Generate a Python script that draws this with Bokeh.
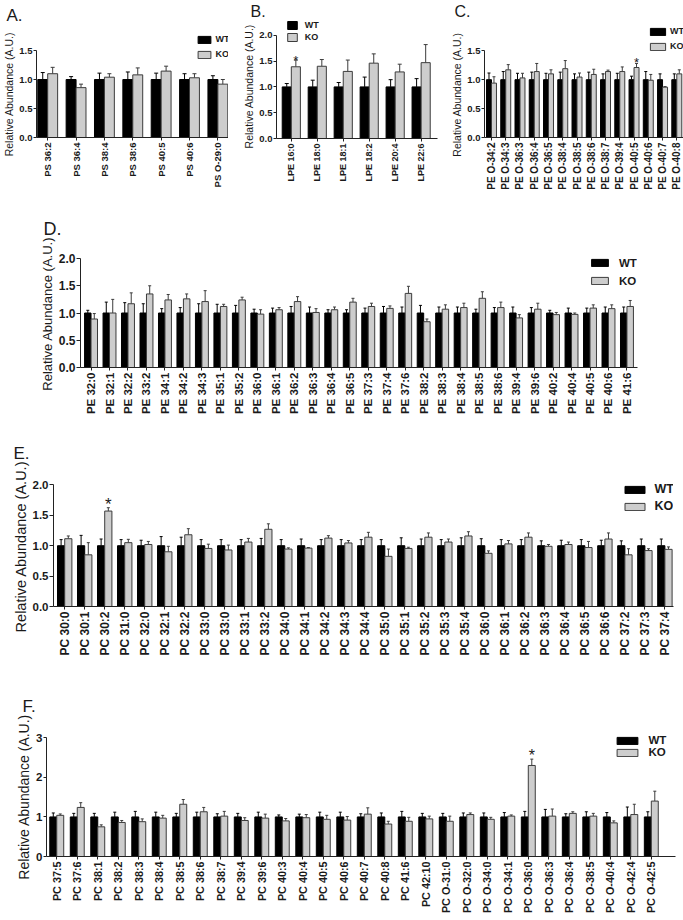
import numpy as np
from bokeh.plotting import figure
from bokeh.models import (ColumnDataSource, Whisker, TeeHead, FixedTicker, Legend,
                          LegendItem, Range1d, NumeralTickFormatter)
from bokeh.layouts import column, row
from bokeh.embed import file_html
from bokeh.resources import INLINE
from bokeh.core.properties import value

# ---------------- data ----------------
a_cats = ["PS 36:2", "PS 36:4", "PS 38:4", "PS 38:6", "PS 40:5", "PS 40:6", "PS O-29:0"]
a_wt = [1.0, 1.0, 1.0, 1.0, 1.0, 1.0, 1.0]
a_wt_err = [0.12, 0.05, 0.11, 0.13, 0.11, 0.10, 0.065]
a_ko = [1.10, 0.86, 1.04, 1.08, 1.145, 1.03, 0.92]
a_ko_err = [0.11, 0.06, 0.06, 0.12, 0.085, 0.07, 0.08]
a_sig = []

b_cats = ["LPE 16:0", "LPE 18:0", "LPE 18:1", "LPE 18:2", "LPE 20:4", "LPE 22:6"]
b_wt = [1.0, 1.0, 1.0, 1.0, 1.0, 1.0]
b_wt_err = [0.065, 0.13, 0.085, 0.19, 0.14, 0.16]
b_ko = [1.39, 1.40, 1.30, 1.46, 1.29, 1.47]
b_ko_err = [0.13, 0.13, 0.22, 0.18, 0.15, 0.35]
b_sig = [0]

c_cats = ["PE O-34:2", "PE O-34:3", "PE O-36:3", "PE O-36:4", "PE O-36:5", "PE O-38:4",
          "PE O-38:5", "PE O-38:6", "PE O-38:7", "PE O-39:4", "PE O-40:5", "PE O-40:6",
          "PE O-40:7", "PE O-40:8"]
c_wt = [1.0, 1.0, 1.0, 1.0, 1.0, 1.0, 1.0, 1.0, 1.0, 1.0, 1.0, 1.0, 1.0, 1.0]
c_wt_err = [0.115, 0.14, 0.11, 0.13, 0.11, 0.13, 0.10, 0.13, 0.10, 0.11, 0.06, 0.14, 0.10, 0.10]
c_ko = [0.94, 1.17, 1.03, 1.14, 1.10, 1.19, 1.045, 1.09, 1.14, 1.14, 1.21, 0.99, 0.87, 1.10]
c_ko_err = [0.11, 0.09, 0.08, 0.14, 0.07, 0.14, 0.07, 0.09, 0.025, 0.08, 0.07, 0.10, 0.01, 0.07]
c_sig = [10]

d_cats = ["PE 32:0", "PE 32:1", "PE 32:2", "PE 33:2", "PE 34:1", "PE 34:2", "PE 34:3",
          "PE 35:1", "PE 35:2", "PE 36:0", "PE 36:1", "PE 36:2", "PE 36:3", "PE 36:4",
          "PE 36:5", "PE 37:3", "PE 37:4", "PE 37:6", "PE 38:2", "PE 38:3", "PE 38:4",
          "PE 38:5", "PE 38:6", "PE 39:4", "PE 39:6", "PE 40:2", "PE 40:4", "PE 40:5",
          "PE 40:6", "PE 41:6"]
d_wt = [1.0, 1.0, 1.0, 1.0, 1.0, 1.0, 1.0, 1.0, 1.0, 1.0, 1.0, 1.0, 1.0, 1.0, 1.0,
        1.0, 1.0, 1.0, 1.0, 1.0, 1.0, 1.0, 1.0, 1.0, 1.0, 1.0, 1.0, 1.0, 1.0, 1.0]
d_wt_err = [0.05, 0.20, 0.19, 0.17, 0.08, 0.10, 0.17, 0.16, 0.14, 0.07, 0.09, 0.12, 0.11, 0.06,
            0.06, 0.09, 0.12, 0.11, 0.14, 0.11, 0.11, 0.07, 0.10, 0.11, 0.10, 0.05, 0.09, 0.09,
            0.11, 0.11]
d_ko = [0.89, 1.00, 1.17, 1.35, 1.24, 1.26, 1.21, 1.12, 1.24, 0.98, 1.06, 1.21, 1.01, 1.06,
        1.20, 1.12, 1.085, 1.36, 0.84, 1.07, 1.10, 1.27, 1.10, 0.91, 1.07, 0.97, 0.975, 1.09,
        1.08, 1.12]
d_ko_err = [0.10, 0.25, 0.20, 0.15, 0.10, 0.09, 0.20, 0.04, 0.05, 0.08, 0.04, 0.09, 0.07, 0.05,
            0.07, 0.06, 0.045, 0.13, 0.05, 0.08, 0.08, 0.12, 0.10, 0.06, 0.11, 0.04, 0.025, 0.06,
            0.07, 0.11]
d_sig = []

e_cats = ["PC 30:0", "PC 30:1", "PC 30:2", "PC 31:0", "PC 32:0", "PC 32:1", "PC 32:2",
          "PC 33:0", "PC 33:0", "PC 33:1", "PC 33:2", "PC 34:0", "PC 34:1", "PC 34:2",
          "PC 34:3", "PC 34:4", "PC 35:0", "PC 35:1", "PC 35:2", "PC 35:3", "PC 35:4",
          "PC 36:0", "PC 36:1", "PC 36:2", "PC 36:3", "PC 36:4", "PC 36:5", "PC 36:6",
          "PC 37:2", "PC 37:3", "PC 37:4"]
e_wt = [1.0, 1.0, 1.0, 1.0, 1.0, 1.0, 1.0, 1.0, 1.0, 1.0, 1.0, 1.0, 1.0, 1.0, 1.0, 1.0,
        1.0, 1.0, 1.0, 1.0, 1.0, 1.0, 1.0, 1.0, 1.0, 1.0, 1.0, 1.0, 1.0, 1.0, 1.0]
e_wt_err = [0.10, 0.17, 0.11, 0.10, 0.09, 0.15, 0.14, 0.10, 0.10, 0.10, 0.12, 0.10, 0.11, 0.10,
            0.10, 0.10, 0.10, 0.13, 0.11, 0.10, 0.13, 0.115, 0.10, 0.10, 0.08, 0.09, 0.10, 0.09,
            0.08, 0.11, 0.11]
e_ko = [1.115, 0.85, 1.57, 1.05, 1.02, 0.90, 1.18, 0.955, 0.93, 1.06, 1.27, 0.945, 0.96, 1.125,
        1.045, 1.14, 0.825, 0.955, 1.14, 1.06, 1.16, 0.875, 1.03, 1.14, 0.99, 1.02, 0.97, 1.11,
        0.85, 0.92, 0.94]
e_ko_err = [0.045, 0.20, 0.055, 0.055, 0.05, 0.09, 0.10, 0.07, 0.08, 0.06, 0.09, 0.02, 0.01, 0.04,
            0.04, 0.08, 0.12, 0.02, 0.07, 0.05, 0.07, 0.04, 0.055, 0.07, 0.03, 0.04, 0.10, 0.10,
            0.10, 0.03, 0.04]
e_sig = [2]

f_cats = ["PC 37:5", "PC 37:6", "PC 38:1", "PC 38:2", "PC 38:3", "PC 38:4", "PC 38:5",
          "PC 38:6", "PC 38:7", "PC 39:4", "PC 39:6", "PC 40:3", "PC 40:4", "PC 40:5",
          "PC 40:6", "PC 40:7", "PC 40:8", "PC 41:6", "PC 42:10", "PC O-31:0", "PC O-32:0",
          "PC O-34:0", "PC O-34:1", "PC O-36:0", "PC O-36:3", "PC O-36:4", "PC O-38:5",
          "PC O-40:4", "PC O-42:4", "PC O-42:5"]
f_wt = [1.0, 1.0, 1.0, 1.0, 1.0, 1.0, 1.0, 1.0, 1.0, 1.0, 1.0, 1.0, 1.0, 1.0, 1.0,
        1.0, 1.0, 1.0, 1.0, 1.0, 1.0, 1.0, 1.0, 1.0, 1.0, 1.0, 1.0, 1.0, 1.0, 1.0]
f_wt_err = [0.10, 0.09, 0.09, 0.12, 0.14, 0.12, 0.09, 0.12, 0.08, 0.09, 0.12, 0.05, 0.07, 0.12,
            0.12, 0.08, 0.10, 0.14, 0.09, 0.09, 0.10, 0.10, 0.11, 0.14, 0.19, 0.08, 0.13, 0.11,
            0.25, 0.13]
f_ko = [1.04, 1.24, 0.75, 0.86, 0.88, 0.97, 1.32, 1.13, 1.02, 0.91, 0.97, 0.90, 0.98, 0.94,
        0.92, 1.07, 0.82, 0.89, 0.95, 0.89, 1.06, 0.94, 1.02, 2.30, 1.02, 1.09, 1.02, 0.85,
        1.06, 1.40]
f_ko_err = [0.035, 0.12, 0.05, 0.05, 0.07, 0.07, 0.12, 0.11, 0.12, 0.07, 0.10, 0.06, 0.08, 0.10,
            0.09, 0.16, 0.07, 0.10, 0.07, 0.13, 0.04, 0.05, 0.03, 0.16, 0.18, 0.04, 0.07, 0.05,
            0.26, 0.25]
f_sig = [23]

Y_TITLE = "Relative Abundance (A.U.)"

# ---------------- styling ----------------
FONT = "Liberation Sans"
TXT = "#1a1a1a"
KO_FILL = "#cdcdcd"
KO_LINE = "#3c3c3c"
NBSP = "\u00a0"


def panel(cats, wt, wt_err, ko, ko_err, sig, cfg):
    n = len(cats)
    xs = np.arange(1, n + 1, dtype=float)
    bw = cfg["bw"]
    wt = np.asarray(wt, float)
    ko = np.asarray(ko, float)
    src = ColumnDataSource(dict(wx=xs - bw / 2, kx=xs + bw / 2, wt=wt, ko=ko,
                                wt_hi=wt + np.asarray(wt_err, float),
                                ko_hi=ko + np.asarray(ko_err, float)))
    W, H = cfg["size"]
    bl, br, bt, bb = cfg["borders"]
    ox, oy = cfg["origin"]
    frame_left = ox + bl
    frame_top = oy + bt
    frame_bottom = oy + H - bb
    frame_h = frame_bottom - frame_top

    letter, lx, lbase, lfs = cfg["letter"]
    p = figure(width=W, height=H, x_range=Range1d(*cfg["xr"]), y_range=Range1d(0, cfg["ytop"]),
               output_backend="svg", toolbar_location=None, title=letter,
               min_border_left=bl, min_border_right=br, min_border_top=bt, min_border_bottom=bb)
    p.outline_line_color = None
    p.xgrid.visible = False
    p.ygrid.visible = False

    # panel letter as the plot title
    p.title.align = "left"
    p.title.offset = int(round(lx - frame_left))
    p.title.standoff = max(0, int(round(frame_top - (lbase + 0.212 * lfs))))
    p.title.text_font = FONT
    p.title.text_font_size = f"{lfs}px"
    p.title.text_font_style = "normal"
    p.title.text_color = TXT

    for base, lo, hi, col in (("wx", "wt", "wt_hi", "black"), ("kx", "ko", "ko_hi", KO_LINE)):
        p.add_layout(Whisker(source=src, base=base, lower=lo, upper=hi, dimension="height",
                             line_color=col, line_width=1, lower_head=None,
                             upper_head=TeeHead(size=cfg["cap"], line_color=col, line_width=1)))
    rw = p.vbar(x="wx", top="wt", bottom=0, width=bw, source=src,
                fill_color="black", line_color="black", line_width=1)
    rk = p.vbar(x="kx", top="ko", bottom=0, width=bw, source=src,
                fill_color=KO_FILL, line_color=KO_LINE, line_width=1)

    # x axis
    xa = p.xaxis[0]
    xa.ticker = FixedTicker(ticks=list(xs))
    xa.major_label_overrides = {i + 1: c for i, c in enumerate(cats)}
    xa.major_label_orientation = np.pi / 2
    xa.major_label_text_font = FONT
    xa.major_label_text_font_size = cfg["cat_fs"]
    xa.major_label_text_font_style = "bold"
    xa.major_label_text_color = TXT
    xa.major_label_standoff = 2
    xa.major_tick_out = 3
    xa.major_tick_in = 0
    xa.minor_tick_line_color = None
    xa.axis_line_color = "#222222"
    xa.major_tick_line_color = "#222222"

    # y axis
    ytop_b = cfg["yticks"][-1]
    ya = p.yaxis[0]
    ya.ticker = FixedTicker(ticks=cfg["yticks"])
    ya.bounds = (0, ytop_b)
    ya.formatter = NumeralTickFormatter(format=cfg["yfmt"])
    ya.major_label_text_font = FONT
    ya.major_label_text_font_size = cfg["tick_fs"]
    ya.major_label_text_font_style = "bold"
    ya.major_label_text_color = TXT
    ya.major_label_standoff = 1
    ya.major_tick_out = cfg["ytick_out"]
    ya.major_tick_in = 0
    ya.minor_tick_line_color = None
    ya.axis_line_color = "#222222"
    ya.major_tick_line_color = "#222222"
    # the label is centred on the frame; pad its upper end so the words centre on the axis line
    shift = (cfg["ytop"] - ytop_b) / 2 * frame_h / cfg["ytop"]
    k = int(round(2 * shift / (0.278 * cfg["title_px"])))
    ya.axis_label = Y_TITLE + NBSP * k
    ya.axis_label_text_font = FONT
    ya.axis_label_text_font_size = f"{cfg['title_px']}px"
    ya.axis_label_text_font_style = "normal"
    ya.axis_label_text_color = TXT
    ya.axis_label_standoff = 1

    # legend (page coordinates converted to frame-relative screen units)
    box_left, box_w, box_h, wt_cy, ko_cy, text_x, lgfs = cfg["legend"]
    gw = int(round(box_w / 0.8))
    gh = int(round(box_h / 0.8))
    h = max(gh, 1.15 * lgfs)
    x1 = box_left - 0.1 * gw
    leg = Legend(items=[LegendItem(label=value("WT"), renderers=[rw]),
                        LegendItem(label=value("KO"), renderers=[rk])],
                 location=(x1 - frame_left, frame_bottom - (ko_cy + h / 2)),
                 orientation="vertical", padding=0, margin=0,
                 spacing=max(0, int(round((ko_cy - wt_cy) - h))),
                 glyph_width=gw, glyph_height=gh, label_height=gh, label_width=10,
                 label_standoff=int(round(text_x - (x1 + gw))),
                 label_text_font=FONT, label_text_font_size=f"{lgfs}px",
                 label_text_font_style="bold", label_text_color=TXT,
                 background_fill_alpha=0, border_line_alpha=0)
    p.add_layout(leg)

    # significance stars
    if sig:
        p.text(x=[xs[i] + bw / 2 for i in sig], y=[ko[i] + ko_err[i] for i in sig],
               text=["*"] * len(sig), text_align="center", text_baseline="middle",
               y_offset=cfg["star_dy"], text_font=value(FONT),
               text_font_size=cfg["star_fs"], text_color=TXT)
    return p


# page origin is the top-left corner of the window (the Bokeh page has no body margin)
cfgA = dict(origin=(0, 0), size=(228, 210), borders=(33, 0, 27, 73), xr=(0.605, 7.375), ytop=1.897,
            yticks=[0, 0.5, 1.0, 1.5], yfmt="0.0", bw=0.35, cap=4, ytick_out=3,
            tick_fs="9.5px", cat_fs="9.5px", title_px=10.5,
            legend=(195, 13, 7, 38.5, 54, 212, 9), letter=("A.", 3, 17, 17),
            star_fs="13px", star_dy=0)
cfgB = dict(origin=(228, 0), size=(220, 210), borders=(48, 11, 19, 72), xr=(0.43, 6.63), ytop=2.306,
            yticks=[0, 0.5, 1.0, 1.5, 2.0], yfmt="0.0", bw=0.35, cap=4, ytick_out=3,
            tick_fs="9.5px", cat_fs="9px", title_px=10.5,
            legend=(287, 10, 8, 25, 37, 305, 9), letter=("B.", 250, 15.6, 16),
            star_fs="13px", star_dy=0)
cfgC = dict(origin=(448, 0), size=(235, 210), borders=(33, 0, 19, 73), xr=(0.51, 14.47), ytop=2.04,
            yticks=[0, 0.5, 1.0, 1.5], yfmt="0.0", bw=0.35, cap=3, ytick_out=3,
            tick_fs="9.5px", cat_fs="10px", title_px=10.5,
            legend=(647, 15, 7, 30.5, 46, 667, 9), letter=("C.", 451, 15.6, 16),
            star_fs="13px", star_dy=-1)
cfgD = dict(origin=(0, 210), size=(683, 218), borders=(80, 46, 35, 61), xr=(0.43, 30.57), ytop=2.239,
            yticks=[0, 0.5, 1.0, 1.5, 2.0], yfmt="0.0", bw=0.35, cap=3, ytick_out=4,
            tick_fs="12px", cat_fs="11.5px", title_px=13,
            legend=(591, 17, 7.5, 261, 280, 619, 11.5), letter=("D.", 43, 228, 18),
            star_fs="14px", star_dy=-2)
cfgE = dict(origin=(0, 428), size=(683, 232), borders=(53, 10, 42, 54), xr=(0.44, 31.43), ytop=2.237,
            yticks=[0, 0.5, 1.0, 1.5, 2.0], yfmt="0.0", bw=0.36, cap=3, ytick_out=4,
            tick_fs="11.5px", cat_fs="12px", title_px=14.5,
            legend=(624, 20, 7.5, 488.5, 506, 655, 12.5), letter=("E.", 13, 451, 17),
            star_fs="17px", star_dy=-3)
cfgF = dict(origin=(0, 660), size=(683, 256), borders=(46, 8, 65, 57), xr=(0.5, 31.18), ytop=3.31,
            yticks=[0, 1, 2, 3], yfmt="0", bw=0.34, cap=3, ytick_out=3,
            tick_fs="11.5px", cat_fs="10.8px", title_px=14,
            legend=(617, 21, 7, 741.5, 754.5, 648, 11.5), letter=("F.", 22, 702, 17),
            star_fs="16px", star_dy=-4)

pa = panel(a_cats, a_wt, a_wt_err, a_ko, a_ko_err, a_sig, cfgA)
pb = panel(b_cats, b_wt, b_wt_err, b_ko, b_ko_err, b_sig, cfgB)
pc = panel(c_cats, c_wt, c_wt_err, c_ko, c_ko_err, c_sig, cfgC)
pd = panel(d_cats, d_wt, d_wt_err, d_ko, d_ko_err, d_sig, cfgD)
pe = panel(e_cats, e_wt, e_wt_err, e_ko, e_ko_err, e_sig, cfgE)
pf = panel(f_cats, f_wt, f_wt_err, f_ko, f_ko_err, f_sig, cfgF)

layout = column(row(column(pa), column(pb), column(pc)), row(pd), row(pe), row(pf))

open("out.html", "w").write(file_html(layout, INLINE))
